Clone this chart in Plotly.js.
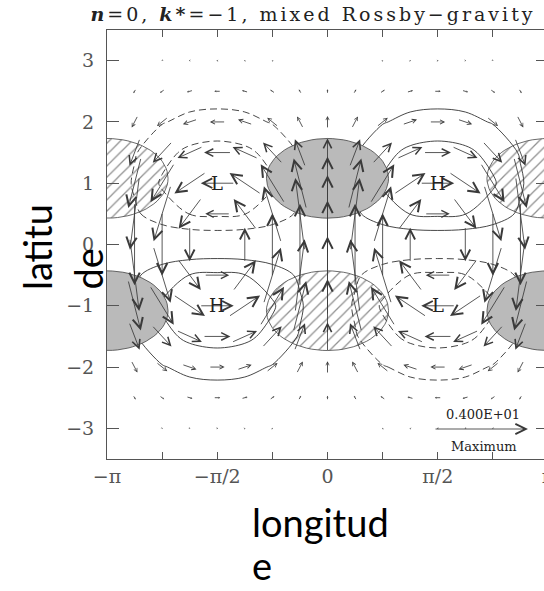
<!DOCTYPE html>
<html><head><meta charset="utf-8">
<script src="https://cdn.plot.ly/plotly-3.0.1.min.js"></script>
<style>html,body{margin:0;padding:0;overflow:hidden;background:#fff}#chart{width:560px;height:591px}</style>
</head><body><div id="chart"></div>
<script>
// ---- data ----
const lon = [-3.1416, -2.7489, -2.3562, -1.9635, -1.5708, -1.1781, -0.7854, -0.3927, 0, 0.3927, 0.7854, 1.1781, 1.5708, 1.9635, 2.3562, 2.7489, 3.1416];
const lat = [-3, -2.5, -2, -1.5, -1, -0.5, 0, 0.5, 1, 1.5, 2, 2.5, 3];
// zonal wind component (rows follow lat, columns follow lon)
const uWind = [
  [0, 0.03, 0.06, 0.07, 0.08, 0.07, 0.06, 0.03, 0, -0.03, -0.06, -0.07, -0.08, -0.07, -0.06, -0.03, 0],
  [0, 0.1, 0.19, 0.25, 0.27, 0.25, 0.19, 0.1, 0, -0.1, -0.19, -0.25, -0.27, -0.25, -0.19, -0.1, 0],
  [0, 0.26, 0.47, 0.62, 0.67, 0.62, 0.47, 0.26, 0, -0.26, -0.47, -0.62, -0.67, -0.62, -0.47, -0.26, 0],
  [0, 0.46, 0.85, 1.11, 1.2, 1.11, 0.85, 0.46, 0, -0.46, -0.85, -1.11, -1.2, -1.11, -0.85, -0.46, 0],
  [0, 0.57, 1.06, 1.39, 1.5, 1.39, 1.06, 0.57, 0, -0.57, -1.06, -1.39, -1.5, -1.39, -1.06, -0.57, 0],
  [0, 0.42, 0.77, 1.01, 1.09, 1.01, 0.77, 0.42, 0, -0.42, -0.77, -1.01, -1.09, -1.01, -0.77, -0.42, 0],
  [0, 0, 0, 0, 0, 0, 0, 0, 0, 0, 0, 0, 0, 0, 0, 0, 0],
  [0, -0.42, -0.77, -1.01, -1.09, -1.01, -0.77, -0.42, 0, 0.42, 0.77, 1.01, 1.09, 1.01, 0.77, 0.42, 0],
  [0, -0.57, -1.06, -1.39, -1.5, -1.39, -1.06, -0.57, 0, 0.57, 1.06, 1.39, 1.5, 1.39, 1.06, 0.57, 0],
  [0, -0.46, -0.85, -1.11, -1.2, -1.11, -0.85, -0.46, 0, 0.46, 0.85, 1.11, 1.2, 1.11, 0.85, 0.46, 0],
  [0, -0.26, -0.47, -0.62, -0.67, -0.62, -0.47, -0.26, 0, 0.26, 0.47, 0.62, 0.67, 0.62, 0.47, 0.26, 0],
  [0, -0.1, -0.19, -0.25, -0.27, -0.25, -0.19, -0.1, 0, 0.1, 0.19, 0.25, 0.27, 0.25, 0.19, 0.1, 0],
  [0, -0.03, -0.06, -0.07, -0.08, -0.07, -0.06, -0.03, 0, 0.03, 0.06, 0.07, 0.08, 0.07, 0.06, 0.03, 0]
];
// meridional wind component
const vWind = [
  [-0.04, -0.04, -0.03, -0.02, 0, 0.02, 0.03, 0.04, 0.04, 0.04, 0.03, 0.02, 0, -0.02, -0.03, -0.04, -0.04],
  [-0.18, -0.17, -0.13, -0.07, 0, 0.07, 0.13, 0.17, 0.18, 0.17, 0.13, 0.07, 0, -0.07, -0.13, -0.17, -0.18],
  [-0.54, -0.5, -0.38, -0.21, 0, 0.21, 0.38, 0.5, 0.54, 0.5, 0.38, 0.21, 0, -0.21, -0.38, -0.5, -0.54],
  [-1.3, -1.2, -0.92, -0.5, 0, 0.5, 0.92, 1.2, 1.3, 1.2, 0.92, 0.5, 0, -0.5, -0.92, -1.2, -1.3],
  [-2.43, -2.25, -1.72, -0.93, 0, 0.93, 1.72, 2.25, 2.43, 2.25, 1.72, 0.93, 0, -0.93, -1.72, -2.25, -2.43],
  [-3.53, -3.26, -2.5, -1.35, 0, 1.35, 2.5, 3.26, 3.53, 3.26, 2.5, 1.35, 0, -1.35, -2.5, -3.26, -3.53],
  [-4, -3.7, -2.83, -1.53, 0, 1.53, 2.83, 3.7, 4, 3.7, 2.83, 1.53, 0, -1.53, -2.83, -3.7, -4],
  [-3.53, -3.26, -2.5, -1.35, 0, 1.35, 2.5, 3.26, 3.53, 3.26, 2.5, 1.35, 0, -1.35, -2.5, -3.26, -3.53],
  [-2.43, -2.25, -1.72, -0.93, 0, 0.93, 1.72, 2.25, 2.43, 2.25, 1.72, 0.93, 0, -0.93, -1.72, -2.25, -2.43],
  [-1.3, -1.2, -0.92, -0.5, 0, 0.5, 0.92, 1.2, 1.3, 1.2, 0.92, 0.5, 0, -0.5, -0.92, -1.2, -1.3],
  [-0.54, -0.5, -0.38, -0.21, 0, 0.21, 0.38, 0.5, 0.54, 0.5, 0.38, 0.21, 0, -0.21, -0.38, -0.5, -0.54],
  [-0.18, -0.17, -0.13, -0.07, 0, 0.07, 0.13, 0.17, 0.18, 0.17, 0.13, 0.07, 0, -0.07, -0.13, -0.17, -0.18],
  [-0.04, -0.04, -0.03, -0.02, 0, 0.02, 0.03, 0.04, 0.04, 0.04, 0.03, 0.02, 0, -0.02, -0.03, -0.04, -0.04]
];
// geopotential has the same structure as u for this mode
const geopotential = uWind;
const contourLevels = [0.5, 1.0];
// centres of divergence (grey) and convergence (hatched) areas
const divX = [0, -3.1416, 3.1416];
const divY = [1.08, -1.08, -1.08];
const convX = [0, -3.1416, 3.1416];
const convY = [-1.08, 1.08, 1.08];
// high / low centres
const highX = [-1.5708, 1.5708];
const highY = [-1, 1];
const lowX = [-1.5708, 1.5708];
const lowY = [1, -1];
const maxLabel = '0.400E+01';
const xTickVals = [-3.1416, -2.3562, -1.5708, -0.7854, 0, 0.7854, 1.5708, 2.3562, 3.1416];
const xTickText = ['\u2212\u03c0', '', '\u2212\u03c0/2', '', '0', '', '\u03c0/2', '', '\u03c0'];
const yTickVals = [-3, -2, -1, 0, 1, 2, 3];

// ---- layout geometry ----
const W = 560, H = 591, ML = 107, MR = 12, MT = 30, MB = 132;
const PW = W - ML - MR, PH = H - MT - MB;
const XR = [-Math.PI, Math.PI], YR = [-3.5, 3.5];
const pxX = PW / (XR[1] - XR[0]), pxY = PH / (YR[1] - YR[0]);
const VEC_PX = 22; // pixels per unit of wind
const RX = 0.87, RY = 0.65;
const serif = 'DejaVu Serif, Liberation Serif, serif';
const py = p => (MT + PH - p) / PH;   // pixel row -> paper y
const px = p => (p - ML) / PW;        // pixel column -> paper x

function ellipses(cx, cy) {
  const xs = [], ys = [];
  for (let i = 0; i < cx.length; i++) {
    for (let k = 0; k <= 72; k++) {
      const t = k / 72 * 2 * Math.PI;
      xs.push(cx[i] + RX * Math.cos(t));
      ys.push(cy[i] + RY * Math.sin(t));
    }
    xs.push(null); ys.push(null);
  }
  return {xs, ys};
}
const eDiv = ellipses(divX, divY), eConv = ellipses(convX, convY);

const traces = [
  {type: 'scatter', mode: 'lines', x: eDiv.xs, y: eDiv.ys, fill: 'toself', fillcolor: '#bababa',
   line: {color: '#444', width: 0.8}, hoverinfo: 'skip', showlegend: false},
  {type: 'scatter', mode: 'lines', x: eConv.xs, y: eConv.ys, fill: 'toself', fillcolor: 'rgba(0,0,0,0)',
   fillpattern: {shape: '/', size: 8, solidity: 0.16, fgcolor: '#222', fillmode: 'overlay'},
   line: {color: '#444', width: 0.8}, hoverinfo: 'skip', showlegend: false},
  {type: 'contour', x: lon, y: lat, z: geopotential, autocontour: false, showscale: false, hoverinfo: 'skip',
   contours: {coloring: 'none', start: contourLevels[0], end: contourLevels[1], size: contourLevels[1] - contourLevels[0]},
   line: {color: '#333', width: 0.9, dash: 'solid', smoothing: 1}},
  {type: 'contour', x: lon, y: lat, z: geopotential, autocontour: false, showscale: false, hoverinfo: 'skip',
   contours: {coloring: 'none', start: -contourLevels[1], end: -contourLevels[0], size: contourLevels[1] - contourLevels[0]},
   line: {color: '#333', width: 0.9, dash: '7px,4px', smoothing: 1}}
];

const annotations = [];
for (let i = 0; i < lat.length; i++) {
  for (let j = 0; j < lon.length; j++) {
    const u = uWind[i][j], v = vWind[i][j];
    const len = Math.hypot(u, v) * VEC_PX;
    if (len < 0.5) continue;
    const dx = u * VEC_PX / pxX, dy = v * VEC_PX / pxY;
    annotations.push({
      xref: 'x', yref: 'y', axref: 'x', ayref: 'y',
      x: lon[j] + dx / 2, y: lat[i] + dy / 2, ax: lon[j] - dx / 2, ay: lat[i] - dy / 2,
      xanchor: 'center', yanchor: 'middle',
      text: '', showarrow: true, arrowhead: 5, arrowwidth: 0.85,
      arrowsize: Math.min(2.4, Math.max(0.35, len / 15)), arrowcolor: '#3a3a3a',
      font: {size: 1}, borderpad: 0, standoff: 0
    });
  }
}
highX.forEach((x, k) => annotations.push({xref: 'x', yref: 'y', x: x, y: highY[k], text: 'H', showarrow: false,
  xanchor: 'center', yanchor: 'middle', font: {family: serif, size: 18, color: '#222'}}));
lowX.forEach((x, k) => annotations.push({xref: 'x', yref: 'y', x: x, y: lowY[k], text: 'L', showarrow: false,
  xanchor: 'center', yanchor: 'middle', font: {family: serif, size: 18, color: '#222'}}));
// reference (maximum) vector
annotations.push({xref: 'paper', yref: 'paper', x: px(528), y: py(429), ax: -93, ay: 0,
  xanchor: 'center', yanchor: 'middle',
  text: '', showarrow: true, arrowhead: 5, arrowwidth: 0.85, arrowsize: 2.4, arrowcolor: '#3a3a3a', font: {size: 1}, borderpad: 0});
annotations.push({xref: 'paper', yref: 'paper', x: px(483), y: py(414), xanchor: 'center', yanchor: 'middle', text: maxLabel,
  showarrow: false, font: {family: serif, size: 13, color: '#222'}});
annotations.push({xref: 'paper', yref: 'paper', x: px(484), y: py(446), xanchor: 'center', yanchor: 'middle', text: 'Maximum',
  showarrow: false, font: {family: serif, size: 13, color: '#222'}});
// axis titles (wrapped as in the picture)
const titleFont = {family: 'Lato, Liberation Sans, sans-serif', size: 38, color: '#000'};
annotations.push({xref: 'paper', yref: 'paper', x: px(37), y: py(292), xanchor: 'center', yanchor: 'bottom',
  textangle: -90, text: 'latitu', showarrow: false, font: titleFont});
annotations.push({xref: 'paper', yref: 'paper', x: px(87), y: py(292), xanchor: 'center', yanchor: 'bottom',
  textangle: -90, text: 'de', showarrow: false, font: titleFont});
annotations.push({xref: 'paper', yref: 'paper', x: px(250), y: py(522), xanchor: 'left', yanchor: 'middle',
  text: 'longitud', showarrow: false, font: titleFont});
annotations.push({xref: 'paper', yref: 'paper', x: px(250), y: py(590), xanchor: 'left', yanchor: 'bottom',
  text: 'e', showarrow: false, font: titleFont});

const axisCommon = {showgrid: false, zeroline: false, showline: true, linecolor: '#555', linewidth: 1,
  mirror: 'allticks', ticks: 'inside', tickcolor: '#555', tickwidth: 1,
  tickfont: {family: serif, size: 19, color: '#555'}, fixedrange: true};

const layout = {
  width: W, height: H, margin: {l: ML, r: MR, t: MT, b: MB},
  paper_bgcolor: '#fff', plot_bgcolor: '#fff', showlegend: false,
  title: {text: '<span style="letter-spacing:3px"><b><i>n</i></b>=0, <b><i>k</i>*</b>=\u22121, mixed Rossby\u2212gravity</span>',
    font: {family: serif, size: 19, color: '#222'},
    xref: 'container', yref: 'container', x: 313 / W, xanchor: 'center', y: 1 - 14 / H, yanchor: 'middle'},
  xaxis: Object.assign({}, axisCommon, {range: XR, tickmode: 'array', tickvals: xTickVals, ticktext: xTickText, ticklen: 7}),
  yaxis: Object.assign({}, axisCommon, {range: YR, tickmode: 'array', tickvals: yTickVals, ticklen: 12, ticklabelstandoff: 8}),
  annotations: annotations
};

Plotly.newPlot('chart', traces, layout, {staticPlot: true, displayModeBar: false});
</script>
</body></html>
